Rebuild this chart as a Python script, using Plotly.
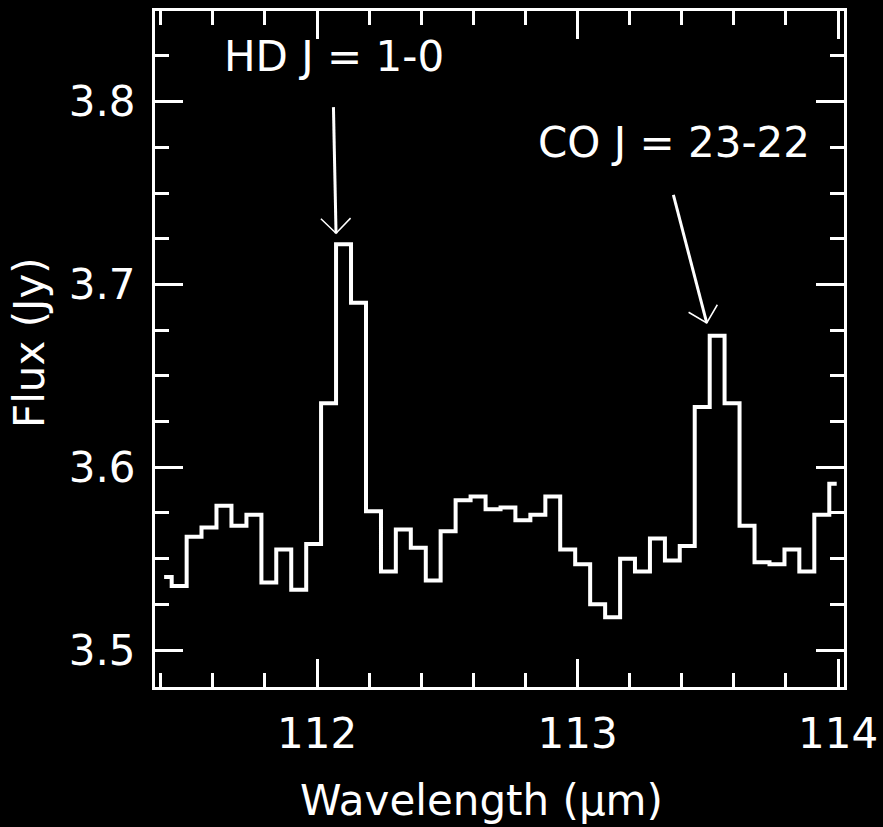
import math
import plotly.graph_objects as go

# Spectrum: bin-centre wavelengths (micron) and flux densities (Jy)
wavelength = [
    111.413, 111.471, 111.528, 111.585, 111.643, 111.700, 111.758, 111.815,
    111.872, 111.930, 111.987, 112.044, 112.102, 112.159, 112.217, 112.274,
    112.331, 112.389, 112.446, 112.503, 112.561, 112.618, 112.676, 112.733,
    112.790, 112.848, 112.905, 112.962, 113.020, 113.077, 113.135, 113.192,
    113.249, 113.307, 113.364, 113.421, 113.479, 113.536, 113.593, 113.651,
    113.708, 113.766, 113.823, 113.880, 113.938, 113.995,
]
flux = [
    3.540, 3.535, 3.562, 3.567, 3.579, 3.568, 3.574, 3.537,
    3.555, 3.533, 3.558, 3.635, 3.722, 3.690, 3.576, 3.543,
    3.566, 3.556, 3.538, 3.565, 3.582, 3.584, 3.577, 3.578,
    3.571, 3.574, 3.584, 3.555, 3.547, 3.525, 3.518, 3.550,
    3.543, 3.561, 3.549, 3.557, 3.633, 3.672, 3.635, 3.568,
    3.548, 3.547, 3.555, 3.543, 3.574, 3.591,
]

# Line identifications: label, arrow tail and arrow tip (data coordinates)
line_labels = ["HD J = 1-0", "CO J = 23-22"]
arrow_tails = [(112.063, 3.797), (113.368, 3.749)]
arrow_tips = [(112.073, 3.728), (113.496, 3.679)]
label_pos = [(112.065, 3.810), (113.370, 3.763)]

X_RANGE = [111.378, 114.023]
Y_RANGE = [3.4798, 3.8496]
W, H = 883, 827
MARGIN = dict(l=155, r=39, t=11, b=140)
PW = W - MARGIN["l"] - MARGIN["r"]
PH = H - MARGIN["t"] - MARGIN["b"]
FONT = "DejaVu Sans"
FS = 42


def to_px(x, y):
    px = (x - X_RANGE[0]) / (X_RANGE[1] - X_RANGE[0]) * PW
    py = (y - Y_RANGE[0]) / (Y_RANGE[1] - Y_RANGE[0]) * PH
    return px, py


def to_data(px, py):
    x = X_RANGE[0] + px / PW * (X_RANGE[1] - X_RANGE[0])
    y = Y_RANGE[0] + py / PH * (Y_RANGE[1] - Y_RANGE[0])
    return x, y


fig = go.Figure()
fig.add_trace(go.Scatter(
    x=wavelength, y=flux, mode="lines",
    line=dict(color="white", width=4, shape="hvh"),
    hoverinfo="skip", showlegend=False,
))

shapes = []
annotations = []
for text, tail, tip, lp in zip(line_labels, arrow_tails, arrow_tips, label_pos):
    shapes.append(dict(type="line", xref="x", yref="y",
                       x0=tail[0], y0=tail[1], x1=tip[0], y1=tip[1],
                       line=dict(color="white", width=3)))
    # open V arrowhead, legs at +/-45 degrees from the shaft
    tx, ty = to_px(*tip)
    sx, sy = to_px(*tail)
    dx, dy = sx - tx, sy - ty
    n = math.hypot(dx, dy)
    dx, dy = dx / n, dy / n
    leg = 21
    pts = []
    for ang in (math.radians(45), math.radians(-45)):
        rx = dx * math.cos(ang) - dy * math.sin(ang)
        ry = dx * math.sin(ang) + dy * math.cos(ang)
        pts.append(to_data(tx + leg * rx, ty + leg * ry))
    path = "M {},{} L {},{} L {},{}".format(
        pts[0][0], pts[0][1], tip[0], tip[1], pts[1][0], pts[1][1])
    shapes.append(dict(type="path", xref="x", yref="y", path=path,
                       line=dict(color="white", width=1.5)))
    annotations.append(dict(x=lp[0], y=lp[1], xref="x", yref="y",
                            text=text, showarrow=False, xanchor="center",
                            yanchor="bottom",
                            font=dict(family=FONT, size=FS, color="white")))

# axis titles
annotations.append(dict(x=(481 - MARGIN["l"]) / PW, y=-(800 - MARGIN["t"] - PH) / PH,
                        xref="paper", yref="paper", text="Wavelength (\u03bcm)",
                        showarrow=False, xanchor="center", yanchor="middle",
                        font=dict(family=FONT, size=FS, color="white")))
annotations.append(dict(x=-(MARGIN["l"] - 29) / PW, y=1 - (342 - MARGIN["t"]) / PH,
                        xref="paper", yref="paper", text="Flux (Jy)", textangle=-90,
                        showarrow=False, xanchor="center", yanchor="middle",
                        font=dict(family=FONT, size=FS, color="white")))

axis_common = dict(
    showline=True, linecolor="white", linewidth=3, mirror="ticks",
    ticks="inside", tickcolor="white", tickwidth=3, ticklen=28,
    showgrid=False, zeroline=False, automargin=False,
    tickfont=dict(family=FONT, size=FS, color="white"),
)

fig.update_layout(
    width=W, height=H, margin=MARGIN,
    paper_bgcolor="black", plot_bgcolor="black",
    xaxis=dict(range=X_RANGE, tick0=112, dtick=1, ticklabelstandoff=8,
               minor=dict(tick0=112, dtick=0.2, ticks="inside", ticklen=14,
                          tickwidth=3, tickcolor="white", showgrid=False),
               **axis_common),
    yaxis=dict(range=Y_RANGE, tick0=3.5, dtick=0.1, tickformat=".1f",
               ticklabelstandoff=8,
               minor=dict(tick0=3.5, dtick=0.025, ticks="inside", ticklen=14,
                          tickwidth=3, tickcolor="white", showgrid=False),
               **axis_common),
    shapes=shapes, annotations=annotations,
)

fig.write_html("out.html")
